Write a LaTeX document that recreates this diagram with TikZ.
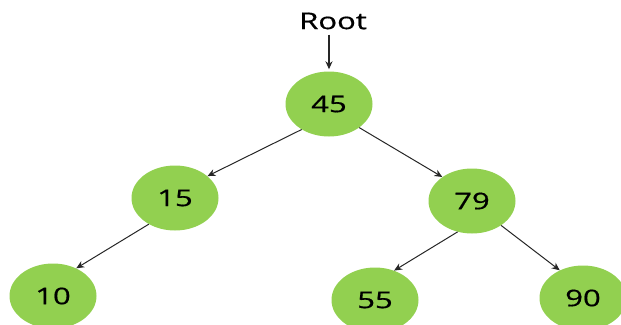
\documentclass[tikz,border=0pt]{standalone}
\usepackage{fontspec}
\usepackage{graphicx}
\usepackage{xcolor}
\usepackage{tikz}
\usetikzlibrary{arrows.meta,shapes.geometric}

\setmainfont{Open Sans}
\newfontfamily\labelfont[FakeBold=0.6]{Open Sans}
\definecolor{nodegreen}{HTML}{92D050}
\newcommand{\widetxt}[1]{\scalebox{1.35}[1]{#1}}

\begin{document}
\begin{tikzpicture}[
		x=1pt, y=-1pt,
		treenode/.style={
			ellipse,
			fill=nodegreen,
			draw=none,
			minimum width=87pt,
			minimum height=65pt,
			inner sep=0pt,
			font=\labelfont\fontsize{23}{27}\selectfont
		},
		arrow/.style={
			-{Stealth[length=8pt,width=7pt]},
			draw=black!85,
			line width=1pt
		}
		]
		\useasboundingbox (0,0) rectangle (621,324);
		
		\node[font=\labelfont\fontsize{23}{27}\selectfont, inner sep=1pt] (root) at (333,21) {\widetxt{Root}};
		
		\node[treenode] (n45) at (329,104) {\widetxt{45}};
		\node[treenode] (n15) at (175,198) {\widetxt{15}};
		\node[treenode] (n79) at (472,201) {\widetxt{79}};
		\node[treenode] (n10) at (53,296) {\widetxt{10}};
		\node[treenode] (n55) at (375,300) {\widetxt{55}};
		\node[treenode] (n90) at (583,298) {\widetxt{90}};
		
		\draw[arrow, line width=1.3pt] ([yshift=-4pt]root.south -| n45.north) -- ([yshift=2pt]n45.north);
		\draw[arrow] (n45.223) -- (n15.34);
		\draw[arrow] (n45.322) -- (n79.141);
		\draw[arrow] (n15.225) -- (n10.50);
		\draw[arrow] (n79.245) -- (n55.57);
		\draw[arrow] (n79.320) -- (n90.130);
		
	\end{tikzpicture}
\end{document}
